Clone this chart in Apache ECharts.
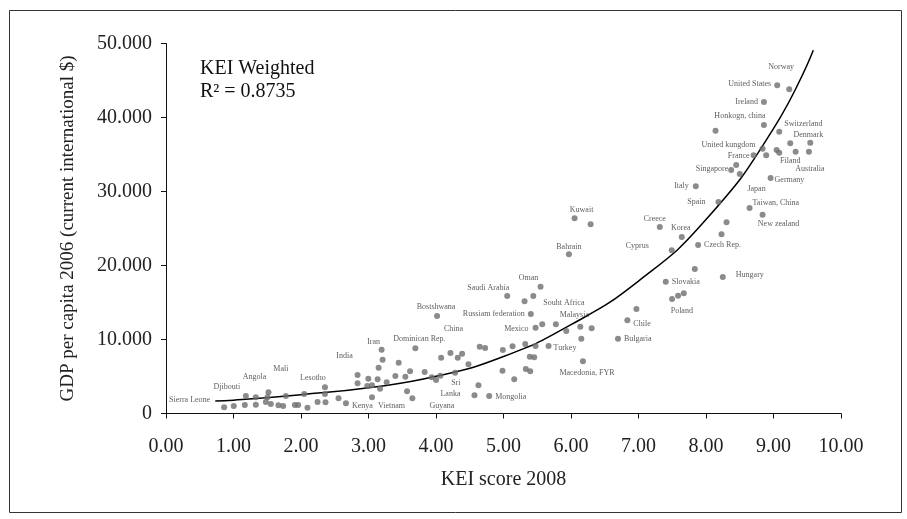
<!DOCTYPE html>
<html><head><meta charset="utf-8">
<script src="https://cdn.jsdelivr.net/npm/echarts@6/dist/echarts.min.js"></script>
<style>html,body{margin:0;padding:0;background:#fff}#c{width:907px;height:519px}</style>
</head><body><div id="c"></div>
<script>
// KEI score 2008 (x) and GDP per capita 2006 (y)
const kei = [0.861,1.004,1.168,1.183,1.331,1.331,1.479,1.518,1.503,1.553,1.666,1.736,1.776,1.909,1.958,2.047,2.096,2.245,2.355,2.355,2.363,2.556,2.666,2.838,2.838,
3.194,3.209,3.150,3.447,3.694,4.016,2.997,2.982,3.052,3.135,3.171,3.269,3.398,3.546,3.616,3.832,3.936,4.001,4.065,4.283,4.076,4.214,4.322,4.387,4.481,4.648,4.728,3.052,3.571,3.650,4.629,4.570,4.788,
5.549,5.055,5.312,5.441,5.405,5.475,5.574,5.776,5.930,6.138,6.306,6.153,6.177,4.990,5.134,5.322,5.475,5.668,5.390,5.455,4.985,5.159,5.331,5.396,6.969,6.835,6.696,
6.291,6.053,5.969,7.315,7.641,7.493,7.883,8.304,8.230,7.834,8.249,7.404,7.497,7.586,7.671,
9.055,9.233,8.858,8.141,8.858,9.085,9.545,9.248,8.838,8.705,8.892,9.046,9.085,9.328,9.525,8.447,8.373,8.501,8.957,7.849,8.185,8.645,8.838];
const gdp = [838,1014,1149,2365,2189,1189,1554,2865,2189,1284,1108,1014,2365,1149,1149,2635,784,1554,3541,2635,1514,2054,1378,5203,4081,
8622,7271,6189,6865,8811,13176,4703,3716,3811,4622,3351,4216,5068,4973,5703,5608,4892,4527,5108,5514,7541,8176,7541,8081,6649,9027,8852,2189,3000,2054,3811,2460,2365,
17136,15879,15163,15879,13446,11595,12055,12055,11149,11730,11514,10108,7054,8581,9081,9392,9122,9122,7676,7595,5784,4622,6014,5703,14122,12595,10108,
25568,26380,21514,25204,23851,22055,22771,25839,24217,19528,18447,17811,15474,15920,16244,
44353,43812,42096,38218,38988,38083,36597,36515,35785,34893,34893,35609,35244,35379,35379,33582,32906,32366,31825,30704,28582,27771,26866];
const names = ['Sierra Leone','','','Djibouti','','','','Angola','','','','','Mali','','','','','','Lesotho','','','','Kenya','India','',
'Iran','','','','Dominican Rep.','Bostshwana','','','','','','','','','','','','','','','','China','','','','','','Vietnam','','Guyana','','Sri\nLanka','Mongolia',
'Oman','Saudi Arabia','','','Russiam federation','Mexico','','Souht Africa','','Malaysia','','','Macedonia, FYR','','','','','Turkey','','','','','','','','Chile','Bulgaria',
'','Kuwait','Bahrain','Creece','Korea','Cyprus','Czech Rep.','Japan','','','Hungary','Slovakia','','','Poland',
'United States','Norway','Ireland','','Honkogn, china','Switzerland','Denmark','','United kungdom','France','','','Filand','','Australia','','Singapore','','Germany','Italy','Spain','Taiwan, China','New zealand'];
// trend line, values
const trendX = [0.73, 1, 2, 3, 4, 5, 6, 7, 8, 9, 9.59];
const trendY = [1690, 1800, 2550, 3480, 5020, 7700, 12000, 17900, 26200, 38500, 49100];
const xTicks = [0,1,2,3,4,5,6,7,8,9,10];
const yTicks = [0,10000,20000,30000,40000,50000];

// label placement (style): [align, dx, dy] relative to point centre in px
const labelPlace = {
 'Sierra Leone':['right',-14,-7],'Djibouti':['center',-19,-9],'Angola':['center',-14,-15],'Mali':['center',-5,-27],
 'Lesotho':['center',-12,-9],'India':['center',-13,-19],'Kenya':['left',6,3],'Vietnam':['left',6,9],'Guyana':['left',17,8],
 'Iran':['center',-8,-8],'Dominican Rep.':['center',4,-9],'Bostshwana':['center',-1,-9],'China':['center',3,-24],
 'Sri\nLanka':['right',-14,-7],'Mongolia':['left',6,1],'Saudi Arabia':['center',-19,-8],'Oman':['center',-12,-9],
 'Russiam federation':['right',-6,0],'Souht Africa':['center',8,-21],'Malaysia':['center',-6,-12],'Mexico':['right',-7,1],
 'Turkey':['left',5,2],'Macedonia, FYR':['center',4,12],'Chile':['left',6,4],'Bulgaria':['left',6,0],'Kuwait':['center',7,-8],
 'Bahrain':['center',0,-7],'Creece':['center',-5,-8],'Korea':['center',-1,-9],'Cyprus':['right',-23,-4],'Czech Rep.':['left',6,0],
 'Hungary':['left',13,-2],'Slovakia':['left',6,0],'Poland':['center',-2,18],'Italy':['right',-7,0],'Spain':['right',-13,0],
 'Japan':['center',30,-33],'Taiwan, China':['left',3,-5],'New zealand':['center',16,9],'Germany':['left',4,2],
 'Singapore':['right',-3,-1],'France':['right',-4,1],'United kungdom':['right',-7,-4],'Filand':['center',11,8],
 'Australia':['center',1,17],'Denmark':['center',-2,-8],'Switzerland':['left',5,-8],'Honkogn, china':['center',-24,-9],
 'Ireland':['right',-6,0],'United States':['right',-6,-1],'Norway':['center',-8,-22]
};

const FONT = '"Liberation Serif", "Times New Roman", serif';
const SYM = 6;
const pts = kei.map((x, i) => {
  const n = names[i];
  const d = { value: [x, gdp[i]] };
  if (n && labelPlace[n]) {
    const p = labelPlace[n];
    d.label = { show: true, formatter: n, align: p[0], verticalAlign: 'middle',
      position: [p[1] + SYM / 2, p[2] + SYM / 2] };
  }
  return d;
});
const trend = trendX.map((x, i) => [x, trendY[i]]);

const chart = echarts.init(document.getElementById('c'), null, { renderer: 'canvas' });
chart.setOption({
  animation: false,
  backgroundColor: '#fff',
  textStyle: { fontFamily: FONT },
  grid: { left: 166, right: 66, top: 43.5, bottom: 105.5, containLabel: false },
  xAxis: {
    type: 'value', min: xTicks[0], max: xTicks[xTicks.length - 1], interval: 1,
    name: 'KEI score 2008', nameLocation: 'middle', nameGap: 56,
    nameTextStyle: { fontFamily: FONT, fontSize: 20, color: '#222' },
    axisLine: { show: true, onZero: false, lineStyle: { color: '#111', width: 1 } },
    axisTick: { show: true, inside: false, length: 5, lineStyle: { color: '#111' } },
    axisLabel: { fontFamily: FONT, fontSize: 20, color: '#222', margin: 23, formatter: v => v.toFixed(2) },
    splitLine: { show: false }
  },
  yAxis: {
    type: 'value', min: yTicks[0], max: yTicks[yTicks.length - 1], interval: 10000,
    name: 'GDP per capita 2006 (current international $)', nameLocation: 'middle', nameGap: 88,
    nameTextStyle: { fontFamily: FONT, fontSize: 19, color: '#222' },
    axisLine: { show: true, onZero: false, lineStyle: { color: '#111', width: 1 } },
    axisTick: { show: true, inside: false, length: 5, lineStyle: { color: '#111' } },
    axisLabel: { fontFamily: FONT, fontSize: 20, color: '#222', margin: 14,
      formatter: v => v === 0 ? '0' : (v / 1000) + '.000' },
    splitLine: { show: false }
  },
  series: [
    {
      type: 'scatter', symbol: 'circle', symbolSize: SYM,
      itemStyle: { color: '#6e6e6e' },
      label: { show: false, fontFamily: FONT, fontSize: 8, color: '#333', lineHeight: 11 },
      data: pts, z: 3
    },
    {
      type: 'line', data: trend, smooth: 0.5, showSymbol: false, symbol: 'none',
      lineStyle: { color: '#000', width: 1.5 }, clip: true, z: 2, silent: true
    }
  ],
  graphic: [
    { type: 'rect', left: 7, top: 8, shape: { width: 892, height: 502 },
      style: { fill: 'none', stroke: '#333', lineWidth: 1 }, z: -1, silent: true },
    { type: 'text', left: 200, top: 59, style: { text: 'KEI Weighted', font: '20px ' + FONT, fill: '#111' } },
    { type: 'text', left: 200, top: 82, style: { text: 'R² = 0.8735', font: '20px ' + FONT, fill: '#111' } }
  ]
});
</script></body></html>
